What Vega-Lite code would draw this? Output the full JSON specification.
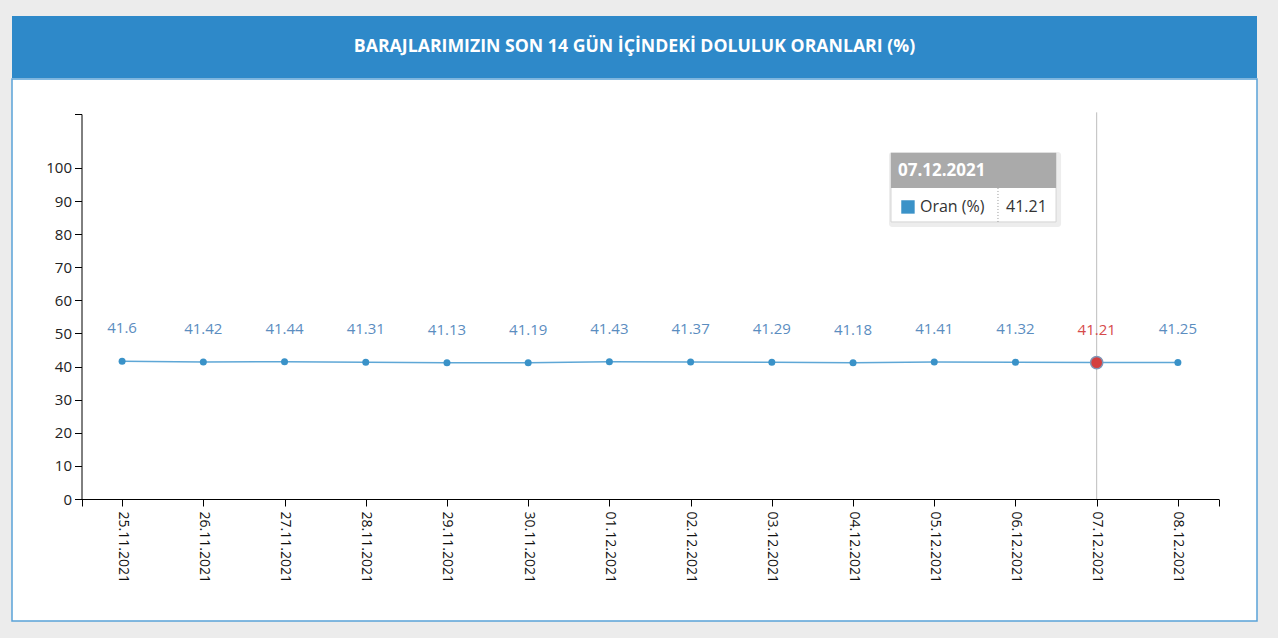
{
  "$schema": "https://vega.github.io/schema/vega-lite/v6.json",
  "background": "#ececec",
  "padding": {"left": 11, "top": 16, "right": 20, "bottom": 16},
  "spacing": 0,
  "config": {"font": "Open Sans"},
  "datasets": {
    "header": [{"title": "BARAJLARIMIZIN SON 14 GÜN İÇİNDEKİ DOLULUK ORANLARI (%)"}],
    "oran": [
      {"date": "2021-11-25", "label": "25.11.2021", "value": 41.6},
      {"date": "2021-11-26", "label": "26.11.2021", "value": 41.42},
      {"date": "2021-11-27", "label": "27.11.2021", "value": 41.44},
      {"date": "2021-11-28", "label": "28.11.2021", "value": 41.31},
      {"date": "2021-11-29", "label": "29.11.2021", "value": 41.13},
      {"date": "2021-11-30", "label": "30.11.2021", "value": 41.19},
      {"date": "2021-12-01", "label": "01.12.2021", "value": 41.43},
      {"date": "2021-12-02", "label": "02.12.2021", "value": 41.37},
      {"date": "2021-12-03", "label": "03.12.2021", "value": 41.29},
      {"date": "2021-12-04", "label": "04.12.2021", "value": 41.18},
      {"date": "2021-12-05", "label": "05.12.2021", "value": 41.41},
      {"date": "2021-12-06", "label": "06.12.2021", "value": 41.32},
      {"date": "2021-12-07", "label": "07.12.2021", "value": 41.21},
      {"date": "2021-12-08", "label": "08.12.2021", "value": 41.25}
    ]
  },
  "vconcat": [
    {
      "width": 1245,
      "height": 62,
      "data": {"name": "header"},
      "view": {"fill": "#2e89c9", "stroke": null, "cornerRadius": 0},
      "mark": {"type": "text", "color": "white", "fontWeight": "bold", "fontSize": 17.7, "align": "center", "baseline": "middle", "dy": 0, "font": "Open Sans"},
      "encoding": {"text": {"field": "title", "type": "nominal"}}
    },
    {
      "width": 1245,
      "height": 542,
      "data": {"name": "oran"},
      "view": {"fill": "white", "stroke": "#5aa2d8", "strokeWidth": 1.5, "cornerRadius": 0},
      "encoding": {
        "x": {
          "field": "date",
          "type": "temporal",
          "scale": {
            "type": "utc",
            "nice": false,
            "domain": [
              {"year": 2021, "month": 11, "date": 24, "hours": 12, "utc": true},
              {"year": 2021, "month": 12, "date": 8, "hours": 12, "utc": true}
            ],
            "range": [69.5, 1206.5]
          },
          "axis": {
            "title": null,
            "grid": false,
            "offset": -122,
            "values": [
              {"year": 2021, "month": 11, "date": 24, "hours": 12, "utc": true},
              {"year": 2021, "month": 11, "date": 25, "utc": true},
              {"year": 2021, "month": 11, "date": 26, "utc": true},
              {"year": 2021, "month": 11, "date": 27, "utc": true},
              {"year": 2021, "month": 11, "date": 28, "utc": true},
              {"year": 2021, "month": 11, "date": 29, "utc": true},
              {"year": 2021, "month": 11, "date": 30, "utc": true},
              {"year": 2021, "month": 12, "date": 1, "utc": true},
              {"year": 2021, "month": 12, "date": 2, "utc": true},
              {"year": 2021, "month": 12, "date": 3, "utc": true},
              {"year": 2021, "month": 12, "date": 4, "utc": true},
              {"year": 2021, "month": 12, "date": 5, "utc": true},
              {"year": 2021, "month": 12, "date": 6, "utc": true},
              {"year": 2021, "month": 12, "date": 7, "utc": true},
              {"year": 2021, "month": 12, "date": 8, "utc": true},
              {"year": 2021, "month": 12, "date": 8, "hours": 12, "utc": true}
            ],
            "labelExpr": "utchours(datum.value) == 12 ? '' : utcFormat(datum.value, '%d.%m.%Y')",
            "labelAngle": 90,
            "labelAlign": "left",
            "labelBaseline": "middle",
            "labelPadding": 5,
            "labelFontSize": 14,
            "labelColor": "#111",
            "labelOverlap": false,
            "labelFlush": false,
            "labelBound": false,
            "tickSize": 7,
            "tickColor": "#000",
            "domainColor": "#000",
            "domainWidth": 1
          }
        },
        "y": {
          "field": "value",
          "type": "quantitative",
          "scale": {"domain": [0, 116.3], "nice": false, "zero": true, "range": [420, 35]},
          "axis": {
            "title": null,
            "grid": false,
            "offset": -69.5,
            "values": [0, 10, 20, 30, 40, 50, 60, 70, 80, 90, 100, 116.3],
            "labelExpr": "datum.value > 100 ? '' : datum.label",
            "labelFontSize": 15,
            "labelColor": "#222",
            "labelPadding": 3,
            "tickSize": 7,
            "tickColor": "#000",
            "domainColor": "#000",
            "labelOverlap": false,
            "labelFlush": false,
            "labelBound": false
          }
        }
      },
      "layer": [
        {
          "transform": [{"filter": "datum.label == '07.12.2021'"}],
          "mark": {"type": "rule", "color": "#bdbdbd", "strokeWidth": 1},
          "encoding": {
            "y": {"datum": 0, "type": "quantitative"},
            "y2": {"datum": 116.8}
          }
        },
        {
          "mark": {"type": "line", "color": "#5ea7d6", "strokeWidth": 1.5}
        },
        {
          "mark": {"type": "point", "filled": true, "size": 49, "color": "#3a92c8", "opacity": 1}
        },
        {
          "transform": [{"filter": "datum.label == '07.12.2021'"}],
          "mark": {"type": "point", "filled": true, "size": 150, "fill": "#d43f3f", "stroke": "#8095b5", "strokeWidth": 1.5, "opacity": 1}
        },
        {
          "mark": {"type": "text", "dy": -33, "fontSize": 15, "align": "center", "baseline": "middle"},
          "encoding": {
            "text": {"field": "value", "type": "nominal"},
            "color": {"condition": {"test": "datum.label == '07.12.2021'", "value": "#d64a4a"}, "value": "#5b8dbf"}
          }
        },
        {
          "transform": [{"filter": "datum.label == '07.12.2021'"}],
          "mark": {"type": "rect", "fill": "#000", "opacity": 0.07, "xOffset": -2, "x2Offset": 5, "yOffset": -1, "y2Offset": 5, "cornerRadius": 3},
          "encoding": {
            "x": {"datum": {"year": 2021, "month": 12, "date": 4, "hours": 11, "minutes": 13, "utc": true}, "type": "temporal"},
            "x2": {"datum": {"year": 2021, "month": 12, "date": 6, "hours": 12, "utc": true}},
            "y": {"datum": 104.53, "type": "quantitative"},
            "y2": {"datum": 83.69}
          }
        },
        {
          "transform": [{"filter": "datum.label == '07.12.2021'"}],
          "mark": {"type": "rect", "fill": "white", "stroke": "#d4d4d4", "strokeWidth": 1},
          "encoding": {
            "x": {"datum": {"year": 2021, "month": 12, "date": 4, "hours": 11, "minutes": 13, "utc": true}, "type": "temporal"},
            "x2": {"datum": {"year": 2021, "month": 12, "date": 6, "hours": 12, "utc": true}},
            "y": {"datum": 104.53, "type": "quantitative"},
            "y2": {"datum": 83.69}
          }
        },
        {
          "transform": [{"filter": "datum.label == '07.12.2021'"}],
          "mark": {"type": "rect", "fill": "#aaaaaa"},
          "encoding": {
            "x": {"datum": {"year": 2021, "month": 12, "date": 4, "hours": 11, "minutes": 13, "utc": true}, "type": "temporal"},
            "x2": {"datum": {"year": 2021, "month": 12, "date": 6, "hours": 12, "utc": true}},
            "y": {"datum": 104.53, "type": "quantitative"},
            "y2": {"datum": 93.96}
          }
        },
        {
          "transform": [{"filter": "datum.label == '07.12.2021'"}],
          "mark": {"type": "text", "color": "white", "fontWeight": "bold", "fontSize": 17, "align": "left", "baseline": "middle"},
          "encoding": {
            "x": {"datum": {"year": 2021, "month": 12, "date": 4, "hours": 13, "minutes": 17, "utc": true}, "type": "temporal"},
            "y": {"datum": 99.09, "type": "quantitative"},
            "text": {"field": "label", "type": "nominal"}
          }
        },
        {
          "transform": [{"filter": "datum.label == '07.12.2021'"}],
          "mark": {"type": "point", "shape": "square", "filled": true, "size": 180, "color": "#3a92c8", "opacity": 1},
          "encoding": {
            "x": {"datum": {"year": 2021, "month": 12, "date": 4, "hours": 16, "minutes": 14, "utc": true}, "type": "temporal"},
            "y": {"datum": 88.22, "type": "quantitative"}
          }
        },
        {
          "transform": [{"filter": "datum.label == '07.12.2021'"}],
          "mark": {"type": "text", "color": "#333", "fontSize": 16, "align": "left", "baseline": "middle"},
          "encoding": {
            "x": {"datum": {"year": 2021, "month": 12, "date": 4, "hours": 19, "minutes": 47, "utc": true}, "type": "temporal"},
            "y": {"datum": 88.22, "type": "quantitative"},
            "text": {"value": "Oran (%)"}
          }
        },
        {
          "transform": [{"filter": "datum.label == '07.12.2021'"}],
          "mark": {"type": "rule", "color": "#999", "strokeWidth": 1, "strokeDash": [1, 2]},
          "encoding": {
            "x": {"datum": {"year": 2021, "month": 12, "date": 5, "hours": 18, "minutes": 50, "utc": true}, "type": "temporal"},
            "y": {"datum": 93.96, "type": "quantitative"},
            "y2": {"datum": 83.69}
          }
        },
        {
          "transform": [{"filter": "datum.label == '07.12.2021'"}],
          "mark": {"type": "text", "color": "#333", "fontSize": 16, "align": "left", "baseline": "middle"},
          "encoding": {
            "x": {"datum": {"year": 2021, "month": 12, "date": 5, "hours": 21, "minutes": 12, "utc": true}, "type": "temporal"},
            "y": {"datum": 88.22, "type": "quantitative"},
            "text": {"field": "value", "type": "nominal"}
          }
        }
      ]
    }
  ]
}
